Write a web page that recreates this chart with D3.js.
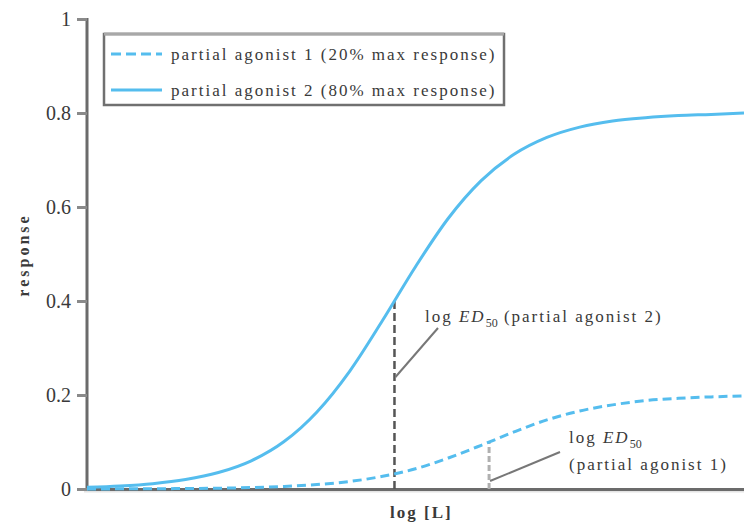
<!DOCTYPE html>
<html>
<head>
<meta charset="utf-8">
<script src="https://cdn.jsdelivr.net/npm/d3@7/dist/d3.min.js"></script>
<style>
  html, body { margin: 0; padding: 0; background: #fff; }
  svg { display: block; }
  text { font-family: "Liberation Serif", "DejaVu Serif", serif; fill: #3a3a3a; }
</style>
</head>
<body>
<svg id="chart" width="744" height="522"></svg>
<script>
// log [L] positions (arbitrary log units) at which responses were read
const logL = [0, 0.25, 0.5, 0.75, 1, 1.25, 1.5, 1.75, 2, 2.25, 2.5, 2.75, 3, 3.25, 3.5, 3.75, 4, 4.25, 4.5, 4.75, 5];
// partial agonist 1 (20% max response)
const agonist1 = [0.0002, 0.0003, 0.0006, 0.001, 0.0017, 0.003, 0.0054, 0.0094, 0.016, 0.027, 0.043, 0.066, 0.093, 0.1215, 0.147, 0.166, 0.179, 0.188, 0.193, 0.196, 0.198];
// partial agonist 2 (80% max response)
const agonist2 = [0.0036, 0.0065, 0.0114, 0.02, 0.035, 0.06, 0.101, 0.164, 0.251, 0.359, 0.473, 0.576, 0.656, 0.712, 0.748, 0.77, 0.783, 0.79, 0.7945, 0.797, 0.8];
// log ED50 of each agonist and the response reached there
const ed50 = [
  { name: "partial agonist 1", logED: 3.06, resp: 0.1 },
  { name: "partial agonist 2", logED: 2.34, resp: 0.4 }
];
const yTicks = [0, 0.2, 0.4, 0.6, 0.8, 1];
const yTickLabels = ["0", "0.2", "0.4", "0.6", "0.8", "1"];
const legendLabels = ["partial agonist 1 (20% max response)", "partial agonist 2 (80% max response)"];

const svg = d3.select("#chart");
const blue = "#55bdee";
const axisGrey = "#6b6b6b";
const textGrey = "#555";

const x = d3.scaleLinear().domain([0, 5]).range([87, 744]);
const y = d3.scaleLinear().domain([0, 1]).range([489, 19]);

// shadow line under the x axis
svg.append("line")
  .attr("x1", 84).attr("x2", 744).attr("y1", 491.5).attr("y2", 491.5)
  .attr("stroke", "#e4e4e4").attr("stroke-width", 2);

// y axis
const yAxis = d3.axisLeft(y)
  .tickValues(yTicks)
  .tickFormat((d, i) => yTickLabels[i])
  .tickSize(10)
  .tickPadding(6);
const gy = svg.append("g").attr("transform", "translate(87,0)").call(yAxis);
gy.select(".domain").attr("stroke", axisGrey).attr("stroke-width", 3).attr("d", `M0,${y(1) - 1}V${y(0) + 1.5}`);
gy.selectAll(".tick line").attr("stroke", "#8a8a8a").attr("stroke-width", 3);
gy.selectAll(".tick text")
  .style("font-family", "Liberation Serif, serif").style("font-size", "20px")
  .attr("fill", textGrey);

// x axis (no ticks)
const xAxis = d3.axisBottom(x).tickValues([]).tickSizeOuter(0);
const gx = svg.append("g").attr("transform", `translate(0,${y(0)})`).call(xAxis);
gx.select(".domain").attr("stroke", axisGrey).attr("stroke-width", 3);

// axis titles
svg.append("text")
  .attr("x", 390).attr("y", 518)
  .style("font-size", "17px").style("font-weight", "bold").style("letter-spacing", "2px")
  .attr("fill", textGrey)
  .text("log [L]");
svg.append("text")
  .attr("transform", `translate(29,255) rotate(-90)`)
  .attr("text-anchor", "middle")
  .style("font-size", "16px").style("font-weight", "bold").style("letter-spacing", "3px")
  .attr("fill", textGrey)
  .text("response");

// ED50 drop lines
const ed2 = ed50[1], ed1 = ed50[0];
svg.append("line")
  .attr("x1", x(ed2.logED)).attr("x2", x(ed2.logED))
  .attr("y1", y(0)).attr("y2", y(ed2.resp))
  .attr("stroke", "#555").attr("stroke-width", 2.5).attr("stroke-dasharray", "8,4");
svg.append("line")
  .attr("x1", x(ed1.logED)).attr("x2", x(ed1.logED))
  .attr("y1", y(0)).attr("y2", y(ed1.resp))
  .attr("stroke", "#b0b0b0").attr("stroke-width", 3).attr("stroke-dasharray", "6,3");

// curves
const line = d3.line()
  .x((d, i) => x(logL[i]))
  .y(d => y(d))
  .curve(d3.curveMonotoneX);

svg.append("path").datum(agonist1)
  .attr("d", line).attr("fill", "none")
  .attr("stroke", blue).attr("stroke-width", 3).attr("stroke-dasharray", "9,5");
svg.append("path").datum(agonist2)
  .attr("d", line).attr("fill", "none")
  .attr("stroke", blue).attr("stroke-width", 3);

// annotation leaders
svg.append("line")
  .attr("x1", x(ed2.logED) + 1).attr("y1", 377).attr("x2", 438).attr("y2", 328)
  .attr("stroke", "#777").attr("stroke-width", 2);
svg.append("line")
  .attr("x1", x(ed1.logED) + 1).attr("y1", 481).attr("x2", 560).attr("y2", 452)
  .attr("stroke", "#777").attr("stroke-width", 2);

// annotation text
const annot = sel => sel.style("font-size", "17px").style("letter-spacing", "2px").attr("fill", textGrey);

const a2 = svg.append("text").attr("x", 425).attr("y", 322).call(annot);
a2.append("tspan").text("log ");
a2.append("tspan").style("font-style", "italic").text("ED");
a2.append("tspan").attr("dy", 5).style("font-size", "12px").style("letter-spacing", "0px").text("50");
a2.append("tspan").attr("dy", -5).text(" (partial agonist 2)");

const a1 = svg.append("text").attr("x", 569).attr("y", 443).call(annot);
a1.append("tspan").text("log ");
a1.append("tspan").style("font-style", "italic").text("ED");
a1.append("tspan").attr("dy", 5).style("font-size", "12px").style("letter-spacing", "0px").text("50");
svg.append("text").attr("x", 569).attr("y", 470).call(annot)
  .text("(partial agonist 1)");

// legend
const lg = svg.append("g");
lg.append("rect")
  .attr("x", 104).attr("y", 34).attr("width", 400).attr("height", 71)
  .attr("fill", "#fff").attr("stroke", "#707070").attr("stroke-width", 2.5);
lg.append("line").attr("x1", 104).attr("x2", 504).attr("y1", 34).attr("y2", 34)
  .attr("stroke", "#a8a8a8").attr("stroke-width", 3);
const rows = [54, 90];
legendLabels.forEach((lab, i) => {
  lg.append("line")
    .attr("x1", 111).attr("x2", 162).attr("y1", rows[i]).attr("y2", rows[i])
    .attr("stroke", blue).attr("stroke-width", 3)
    .attr("stroke-dasharray", i === 0 ? "10,5" : null);
  lg.append("text")
    .attr("x", 171).attr("y", rows[i] + 6)
    .call(annot)
    .text(lab);
});
</script>
</body>
</html>
